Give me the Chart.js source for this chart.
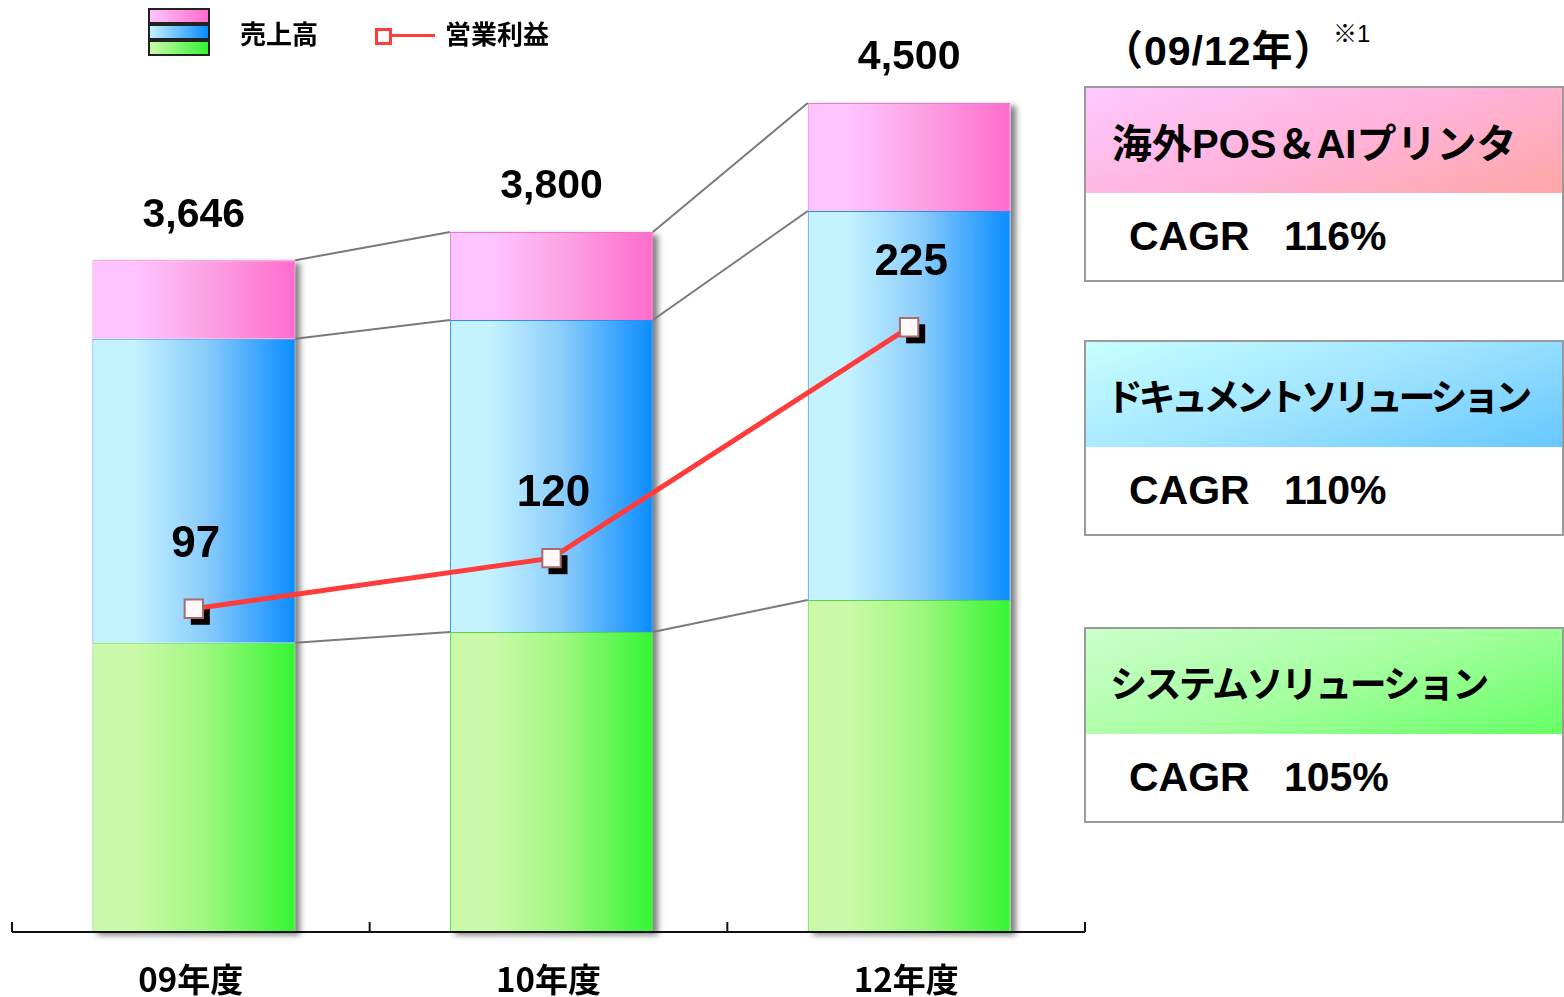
<!DOCTYPE html>
<html lang="ja">
<head>
<meta charset="utf-8">
<script src="https://cdn.jsdelivr.net/npm/chart.js@4.4.1/dist/chart.umd.min.js"></script>
<style>
  body { margin: 0; width: 1564px; height: 997px; background: #fff; position: relative; overflow: hidden;
         font-family: "Liberation Sans", "Noto Sans CJK JP", sans-serif; font-weight: bold; color: #000; }
  #wrap { position: absolute; left: 0; top: 0; width: 1090px; height: 997px; }
  .abs { position: absolute; }
  .leg-bar { position: absolute; left: 148px; width: 58px; height: 12px; border: 2px solid #222; }
  .legtxt { position: absolute; top: 16px; font-size: 26px; line-height: 34px; font-family: "Noto Sans CJK JP", sans-serif; font-weight: 700; }
  .panel { position: absolute; left: 1084px; width: 476px; height: 192px; border: 2px solid #9a9a9a; background: #fff; }
  .panel .head { height: 105px; display: flex; align-items: center; padding-left: 26px; font-size: 40px; white-space: nowrap; overflow: hidden; }
  .panel .cagr { height: 87px; display: flex; align-items: center; padding-left: 43px; font-size: 41px; white-space: pre; }
</style>
</head>
<body>
<div id="wrap"><canvas id="chartSales"></canvas></div>

<!-- 凡例 -->
<div class="leg-bar" style="top:8px;background:linear-gradient(90deg,#ffc4ff,#ff6ccc);"></div>
<div class="leg-bar" style="top:24px;background:linear-gradient(90deg,#c4f2ff,#0a8cff);"></div>
<div class="leg-bar" style="top:40px;background:linear-gradient(90deg,#ccf9a9,#33f533);"></div>
<div class="legtxt" style="left:240px;">売上高</div>
<div class="abs" style="left:375px;top:28px;width:11px;height:11px;border:3px solid #ff3b3b;background:#fff;"></div>
<div class="abs" style="left:390px;top:34px;width:45px;height:3px;background:#ff3b3b;"></div>
<div class="legtxt" style="left:445px;">営業利益</div>

<!-- CAGR パネル -->
<div class="abs" style="left:1102px;top:25px;font-size:41px;line-height:52px;letter-spacing:1px;">（09/12年）</div>
<div class="abs" style="left:1333px;top:20px;font-size:24px;line-height:28px;font-weight:normal;">※1</div>

<div class="panel" style="top:86px;">
  <div class="head" style="background:linear-gradient(160deg,#ffc8ff 0%,#ffb4dc 50%,#ffa6a6 100%);">海外POS＆AIプリンタ</div>
  <div class="cagr">CAGR   116%</div>
</div>
<div class="panel" style="top:340px;">
  <div class="head" style="background:linear-gradient(160deg,#c8ffff 0%,#a0e4ff 50%,#66c8ff 100%);padding-left:20px;font-size:37px;letter-spacing:-4.5px;">ドキュメントソリューション</div>
  <div class="cagr">CAGR   110%</div>
</div>
<div class="panel" style="top:627px;">
  <div class="head" style="background:linear-gradient(160deg,#ccffcc 0%,#a6ffa0 50%,#66ff66 100%);padding-left:24px;font-size:37px;letter-spacing:-2.6px;">システムソリューション</div>
  <div class="cagr">CAGR   105%</div>
</div>

<script>
// データ
const categories = ['09年度', '10年度', '12年度'];
const systemSales = [1570, 1629, 1802];     // システムソリューション
const documentSales = [1650, 1693, 2112];   // ドキュメントソリューション
const posSales = [426, 478, 586];           // 海外POS＆AIプリンタ
const salesTotals = ['3,646', '3,800', '4,500'];
const operatingProfit = [97, 120, 225];

const BAR_FRAC = 0.567;

// 棒の横グラデーション
function barGradient(light, mid, dark) {
    return (c) => {
        const chart = c.chart;
        const xs = chart.scales.x;
        if (!chart.chartArea || !xs || c.dataIndex === undefined) return dark;
        const cx = xs.getPixelForValue(c.dataIndex);
        const half = xs.width / categories.length * BAR_FRAC / 2;
        const g = chart.ctx.createLinearGradient(cx - half, 0, cx + half, 0);
        g.addColorStop(0, light);
        g.addColorStop(0.2, light);
        g.addColorStop(0.55, mid);
        g.addColorStop(1, dark);
        return g;
    };
}

// 影・接続線・軸・ラベル
const barDecor = {
    id: 'barDecor',
    beforeDatasetsDraw(chart) {
        const ctx = chart.ctx;
        const metas = [0, 1, 2].map(i => chart.getDatasetMeta(i));
        ctx.save();
        ctx.shadowColor = 'rgba(0,0,0,0.5)';
        ctx.shadowBlur = 6;
        ctx.shadowOffsetX = 5;
        ctx.shadowOffsetY = 3;
        ctx.fillStyle = '#ffffff';
        metas[0].data.forEach((bar, j) => {
            const top = metas[2].data[j].y;
            ctx.fillRect(bar.x - bar.width / 2, top, bar.width, bar.base - top);
        });
        ctx.restore();

        ctx.save();
        ctx.strokeStyle = '#7a7a7a';
        ctx.lineWidth = 2;
        metas.forEach(meta => {
            for (let j = 0; j < meta.data.length - 1; j++) {
                const a = meta.data[j], b = meta.data[j + 1];
                ctx.beginPath();
                ctx.moveTo(a.x + a.width / 2, a.y);
                ctx.lineTo(b.x - b.width / 2, b.y);
                ctx.stroke();
            }
        });
        ctx.restore();
    },
    beforeDatasetDraw(chart, args) {
        if (args.index !== 3) return;
        const ctx = chart.ctx;
        ctx.save();
        ctx.fillStyle = '#000';
        args.meta.data.forEach(p => {
            ctx.fillRect(p.x - 3, p.y - 3, 19, 19);
        });
        ctx.restore();
    },
    afterDatasetsDraw(chart) {
        const ctx = chart.ctx;
        const area = chart.chartArea;
        const xs = chart.scales.x;
        // X軸（目盛は上向き）
        const left = area.left - 3, right = area.right - 3;
        ctx.save();
        ctx.strokeStyle = '#111';
        ctx.lineWidth = 2;
        ctx.beginPath();
        ctx.moveTo(left, area.bottom);
        ctx.lineTo(right, area.bottom);
        const step = (right - left) / categories.length;
        for (let i = 0; i <= categories.length; i++) {
            const x = left + i * step;
            ctx.moveTo(x, area.bottom);
            ctx.lineTo(x, area.bottom - 10);
        }
        ctx.stroke();

        ctx.fillStyle = '#000';
        ctx.textAlign = 'center';
        ctx.textBaseline = 'middle';
        ctx.font = 'bold 33px "Noto Sans CJK JP", sans-serif';
        categories.forEach((c, i) => {
            ctx.fillText(c, xs.getPixelForValue(i) - 3, area.bottom + 47);
        });

        ctx.font = 'bold 41px "Liberation Sans", Arial, sans-serif';
        chart.getDatasetMeta(2).data.forEach((bar, j) => {
            ctx.fillText(salesTotals[j], bar.x, bar.y - 45);
        });
        ctx.font = 'bold 44px "Liberation Sans", Arial, sans-serif';
        chart.getDatasetMeta(3).data.forEach((p, j) => {
            ctx.fillText(String(operatingProfit[j]), p.x + 2, p.y - 64);
        });
        ctx.restore();
    }
};

const ctxSales = document.getElementById('chartSales').getContext('2d');
new Chart(ctxSales, {
    data: {
        labels: categories,
        datasets: [
            {
                type: 'bar',
                label: 'システムソリューション',
                data: systemSales,
                backgroundColor: barGradient('#ccf9a9', '#a0f880', '#33f533'),
                borderColor: '#4fd84f',
                borderWidth: 1,
                yAxisID: 'y',
                order: 1
            },
            {
                type: 'bar',
                label: 'ドキュメントソリューション',
                data: documentSales,
                backgroundColor: barGradient('#c4f2ff', '#8ccdfc', '#0a8cff'),
                borderColor: '#2f8fe8',
                borderWidth: 1,
                yAxisID: 'y',
                order: 1
            },
            {
                type: 'bar',
                label: '海外POS＆AIプリンタ',
                data: posSales,
                backgroundColor: barGradient('#ffc4ff', '#fca4e4', '#ff6ccc'),
                borderColor: '#e878c8',
                borderWidth: 1,
                yAxisID: 'y',
                order: 1
            },
            {
                type: 'line',
                label: '営業利益',
                data: operatingProfit,
                borderColor: '#ff3b3b',
                borderWidth: 5,
                pointStyle: 'rect',
                pointRadius: 13,
                pointBorderWidth: 2,
                pointBorderColor: '#a86a6a',
                pointBackgroundColor: '#fff8f8',
                yAxisID: 'y2',
                order: 0
            }
        ]
    },
    options: {
        responsive: true,
        maintainAspectRatio: false,
        animation: false,
        datasets: { bar: { categoryPercentage: BAR_FRAC, barPercentage: 1 } },
        layout: { autoPadding: false, padding: { top: 103, left: 15, right: 2, bottom: 65 } },
        plugins: { legend: { display: false }, tooltip: { enabled: false } },
        scales: {
            x: { stacked: true, display: false },
            y: { stacked: true, display: false, min: 0, max: 4500 },
            y2: { display: false, min: -50, max: 327 }
        }
    },
    plugins: [barDecor]
});
</script>
</body>
</html>
